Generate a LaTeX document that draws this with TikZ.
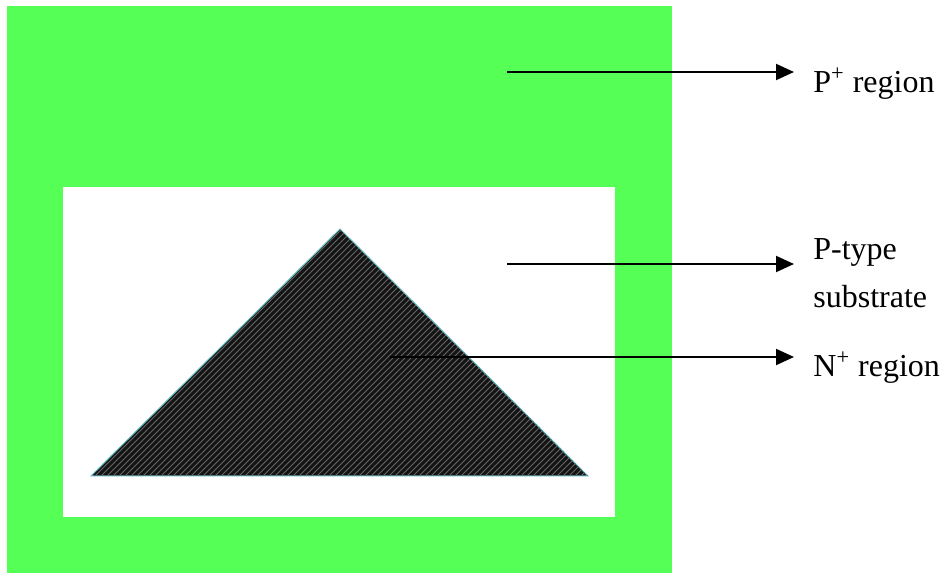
\documentclass[tikz,border=0pt]{standalone}
\usepackage{fontspec}
\setmainfont{Liberation Serif}
\usetikzlibrary{arrows.meta,patterns}
\definecolor{pgreen}{HTML}{55FF55}
\definecolor{tedge}{HTML}{5FB8C0}
\tikzset{
  lbl/.style={anchor=base west, inner sep=0pt, font=\fontsize{16}{24}\selectfont, align=left},
  pointer/.style={line width=1pt, -{Triangle[length=9pt,width=8pt]}}
}
\begin{document}
\begin{tikzpicture}[x=0.5pt,y=-0.5pt]
\useasboundingbox (0,0) rectangle (944,577);
\fill[white] (0,0) rectangle (944,577);
% regions
\fill[pgreen] (7,6) rectangle (672,573);
\fill[white] (63,187) rectangle (615,517);
% N+ triangle
\filldraw[draw=tedge, line width=0.5pt, fill=black!92] (340,229) -- (588,476) -- (91,476) -- cycle;
\fill[pattern=north east lines, pattern color=white!40!black] (340,229) -- (588,476) -- (91,476) -- cycle;
% labels
\node[lbl] (pplus) at (813,93) {P\textsuperscript{+} region};
\node[lbl] (psub) at (813,308) {P-type\\substrate};
\node[lbl] (nplus) at (813,377) {N\textsuperscript{+} region};
% arrow endpoints
\coordinate (s1) at (507,72);  \coordinate (e1) at (794,72);
\coordinate (s2) at (507,264); \coordinate (e2) at (794,264);
\coordinate (s3) at (390,357); \coordinate (e3) at (794,357);
\draw[pointer] (s1) -- (e1);
\draw[pointer] (s2) -- (e2);
\draw[pointer] (s3) -- (e3);
\end{tikzpicture}
\end{document}
